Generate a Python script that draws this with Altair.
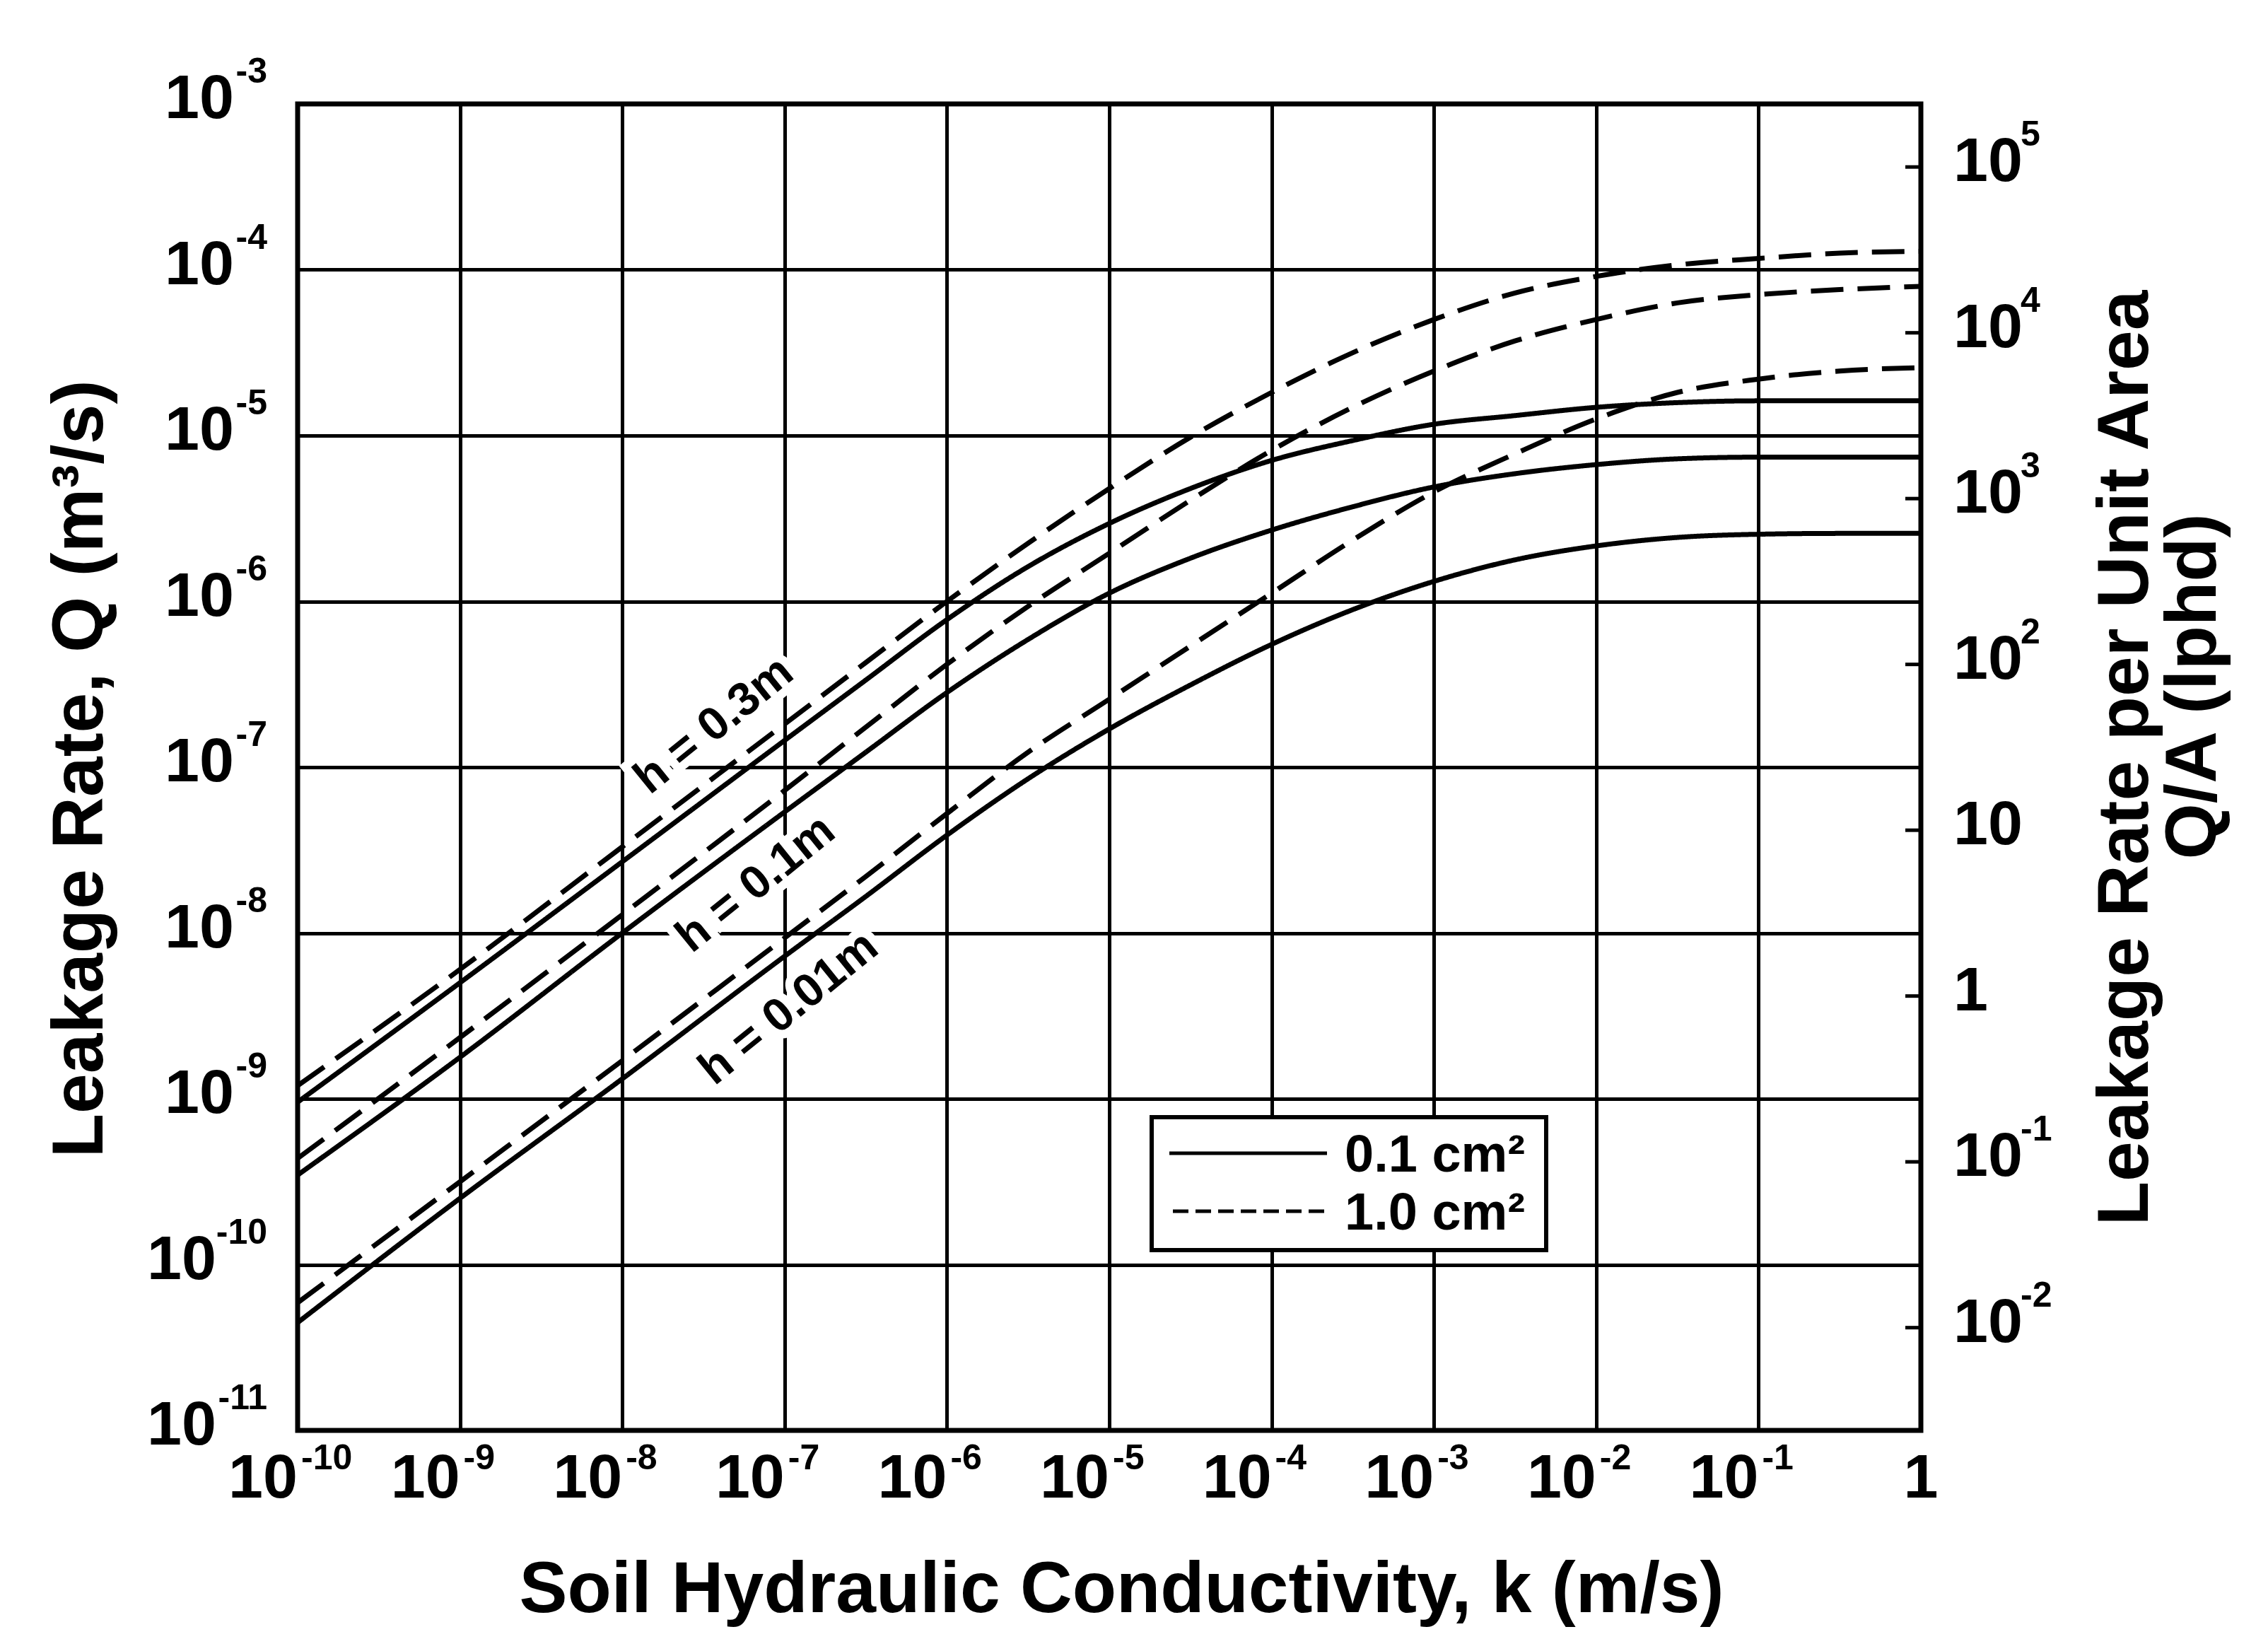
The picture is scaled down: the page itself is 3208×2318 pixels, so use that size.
import altair as alt
import pandas as pd

# ---------------- data ----------------
K = [1e-10, 1e-9, 1e-8, 1e-7, 3.16e-7, 1e-6, 3.16e-6, 1e-5, 3.16e-5,
     1e-4, 3.16e-4, 1e-3, 3.16e-3, 1e-2, 3.16e-2, 1e-1, 3.16e-1, 1.0]

# h = 0.3 m
Q_H030_A01 = [9.55e-10, 5.01e-9, 2.69e-8, 1.45e-7, 3.35e-7, 7.76e-7, 1.62e-6, 2.95e-6, 4.79e-6,
              7.08e-6, 9.33e-6, 1.17e-5, 1.32e-5, 1.48e-5, 1.58e-5, 1.62e-5, 1.62e-5, 1.62e-5]
Q_H030_A10 = [1.20e-9, 6.03e-9, 3.31e-8, 1.82e-7, 4.27e-7, 1.0e-6, 2.24e-6, 4.79e-6, 9.77e-6,
              1.82e-5, 3.16e-5, 5.01e-5, 7.24e-5, 9.12e-5, 1.07e-4, 1.17e-4, 1.26e-4, 1.29e-4]
# h = 0.1 m
Q_H010_A01 = [3.47e-10, 1.78e-9, 1.0e-8, 5.37e-8, 1.23e-7, 2.82e-7, 5.89e-7, 1.12e-6, 1.82e-6,
              2.69e-6, 3.72e-6, 4.90e-6, 5.89e-6, 6.68e-6, 7.24e-6, 7.41e-6, 7.41e-6, 7.41e-6]
Q_H010_A10 = [4.37e-10, 2.34e-9, 1.29e-8, 7.24e-8, 1.74e-7, 4.17e-7, 9.33e-7, 1.95e-6, 4.07e-6,
              8.13e-6, 1.48e-5, 2.45e-5, 3.72e-5, 5.01e-5, 6.31e-5, 7.08e-5, 7.59e-5, 7.94e-5]
# h = 0.01 m
Q_H001_A01 = [4.47e-11, 2.51e-10, 1.32e-9, 7.24e-9, 1.66e-8, 3.89e-8, 8.51e-8, 1.70e-7, 3.13e-7,
              5.50e-7, 8.91e-7, 1.32e-6, 1.78e-6, 2.16e-6, 2.43e-6, 2.54e-6, 2.57e-6, 2.57e-6]
Q_H001_A10 = [5.89e-11, 3.16e-10, 1.70e-9, 9.33e-9, 2.19e-8, 5.25e-8, 1.23e-7, 2.57e-7, 5.37e-7,
              1.12e-6, 2.34e-6, 4.57e-6, 7.76e-6, 1.26e-5, 1.82e-5, 2.19e-5, 2.45e-5, 2.57e-5]

AREA_LABELS = ["0.1 cm²", "1.0 cm²"]

X_TICKS = [1e-10, 1e-9, 1e-8, 1e-7, 1e-6, 1e-5, 1e-4, 1e-3, 1e-2, 1e-1, 1.0]
X_BASE = ["10"] * 10 + ["1"]
X_EXP = ["-10", "-9", "-8", "-7", "-6", "-5", "-4", "-3", "-2", "-1", ""]

Y_TICKS = [1e-11, 1e-10, 1e-9, 1e-8, 1e-7, 1e-6, 1e-5, 1e-4, 1e-3]
Y_EXP = ["-11", "-10", "-9", "-8", "-7", "-6", "-5", "-4", "-3"]

RIGHT_FACTOR = 2.4e8   # Q (m3/s) -> Q/A (lphd)
R_TICKS = [1e-2, 1e-1, 1.0, 10.0, 1e2, 1e3, 1e4, 1e5]
R_BASE = ["10", "10", "1", "10", "10", "10", "10", "10"]
R_EXP = ["-2", "-1", "", "", "2", "3", "4", "5"]

ANN_TEXT = ["h = 0.3m", "h = 0.1m", "h = 0.01m"]
ANN_K = [3.67e-8, 6.64e-8, 1.06e-7]
ANN_Q = [1.79e-7, 1.98e-8, 3.52e-9]

# ---------------- build tables ----------------
series = [("h=0.3", AREA_LABELS[0], Q_H030_A01), ("h=0.3", AREA_LABELS[1], Q_H030_A10),
          ("h=0.1", AREA_LABELS[0], Q_H010_A01), ("h=0.1", AREA_LABELS[1], Q_H010_A10),
          ("h=0.01", AREA_LABELS[0], Q_H001_A01), ("h=0.01", AREA_LABELS[1], Q_H001_A10)]
rows = []
for h, a, qs in series:
    for k, q in zip(K, qs):
        rows.append({"k": k, "Q": q, "area": a, "curve": h + " " + a})
df = pd.DataFrame(rows)

x_df = pd.DataFrame({"k": X_TICKS, "base": X_BASE, "exp": X_EXP})
y_df = pd.DataFrame({"Q": Y_TICKS, "exp": Y_EXP})
r_df = pd.DataFrame({"R": R_TICKS, "base": R_BASE, "exp": R_EXP})
ann_df = pd.DataFrame({"k": ANN_K, "Q": ANN_Q, "label": ANN_TEXT})
leg_df = pd.DataFrame({"label": AREA_LABELS})
one = pd.DataFrame({"i": [0]})

# ---------------- layout / style ----------------
W, H = 2296, 1876
FONT = "Liberation Sans"
BIG = 88
SUP = 50
TITLE = 102

xscale = alt.Scale(type="log", domain=[1e-10, 1.0], nice=False)
yscale = alt.Scale(type="log", domain=[1e-11, 1e-3], nice=False)

txt = dict(font=FONT, fontWeight="bold", color="black")

x_axis = alt.Axis(values=X_TICKS, grid=True, ticks=False, labels=False, domain=False,
                  title="Soil Hydraulic Conductivity, k (m/s)", titleFont=FONT,
                  titleFontSize=TITLE, titleFontWeight="bold", titleColor="black",
                  titleX=1165, titleY=256, titleAlign="center", titleBaseline="alphabetic")
y_axis = alt.Axis(values=Y_TICKS, grid=True, ticks=False, labels=False, domain=False,
                  title="Leakage Rate, Q (m³/s)", titleFont=FONT, titleFontSize=TITLE,
                  titleFontWeight="bold", titleColor="black", titleX=-277, titleY=940,
                  titleAngle=270, titleAlign="center", titleBaseline="alphabetic")

X = alt.X("k:Q", scale=xscale)
Y = alt.Y("Q:Q", scale=yscale)

# white halo behind the h labels (interrupts grid lines like the original)
ann_base = alt.Chart(ann_df).encode(x=X, y=Y, text="label:N")
ann_halo = ann_base.mark_text(angle=321, fontSize=66, font=FONT, fontWeight="bold",
                              fill="white", stroke="white", strokeWidth=24)

curves = alt.Chart(df).mark_line(color="black", strokeWidth=7, interpolate="monotone").encode(
    x=alt.X("k:Q", scale=xscale, axis=x_axis),
    y=alt.Y("Q:Q", scale=yscale, axis=y_axis),
    strokeDash=alt.StrokeDash("area:N", scale=alt.Scale(domain=AREA_LABELS, range=[[1, 0], [46, 20]]),
                              legend=None),
    detail="curve:N",
)

ann_text = ann_base.mark_text(angle=321, fontSize=66, **txt)

# x tick labels (10 + raised exponent)
xl = alt.Chart(x_df)
x_base = xl.transform_filter("datum.exp != ''").mark_text(align="right", baseline="middle", fontSize=BIG, **txt).encode(
    x=X, y=alt.value(H + 69), text="base:N")
x_sup = xl.transform_filter("datum.exp != ''").mark_text(align="left", baseline="middle", dx=5, fontSize=SUP, **txt).encode(
    x=X, y=alt.value(H + 40), text="exp:N")
x_one = xl.transform_filter("datum.exp == ''").mark_text(align="center", baseline="middle", fontSize=BIG, **txt).encode(
    x=X, y=alt.value(H + 69), text="base:N")

# left tick labels
yl = alt.Chart(y_df)
y_sup = yl.mark_text(align="right", baseline="middle", dy=-45, fontSize=SUP, **txt).encode(
    x=alt.value(-43), y=Y, text="exp:N")
y_base2 = yl.transform_filter("length(datum.exp) == 2").mark_text(
    align="right", baseline="middle", dy=-6, fontSize=BIG, text="10", **txt).encode(x=alt.value(-43 - 47), y=Y)
y_base3 = yl.transform_filter("length(datum.exp) == 3").mark_text(
    align="right", baseline="middle", dy=-6, fontSize=BIG, text="10", **txt).encode(x=alt.value(-43 - 72), y=Y)

# right axis (Q/A in lphd): inward ticks + labels, positioned through the Q scale
rl = alt.Chart(r_df).transform_calculate(Qr=f"datum.R / {RIGHT_FACTOR}")
YR = alt.Y("Qr:Q", scale=yscale)
r_ticks = rl.mark_rule(color="black", strokeWidth=5).encode(x=alt.value(W - 22), x2=alt.value(W), y=YR)
r_base = rl.mark_text(align="left", baseline="middle", dy=-6, fontSize=BIG, **txt).encode(
    x=alt.value(W + 46), y=YR, text="base:N")
r_sup = rl.transform_filter("datum.exp != ''").mark_text(align="left", baseline="middle", dy=-45, fontSize=SUP, **txt).encode(
    x=alt.value(W + 141), y=YR, text="exp:N")

# right axis title (two lines)
rt1 = alt.Chart(one).mark_text(angle=270, align="center", baseline="alphabetic", fontSize=TITLE,
                               text="Leakage Rate per Unit Area", **txt).encode(x=alt.value(2617), y=alt.value(925))
rt2 = alt.Chart(one).mark_text(angle=270, align="center", baseline="alphabetic", fontSize=TITLE,
                               text="Q/A (lphd)", **txt).encode(x=alt.value(2713), y=alt.value(824))

# legend
leg_box = alt.Chart(one).mark_rect(fill="white", stroke="black", strokeWidth=6).encode(
    x=alt.value(1208), x2=alt.value(1766), y=alt.value(1433), y2=alt.value(1621))
leg_solid = alt.Chart(one).mark_rule(color="black", strokeWidth=5).encode(
    x=alt.value(1233), x2=alt.value(1456), y=alt.value(1484))
leg_dash = alt.Chart(one).mark_rule(color="black", strokeWidth=5, strokeDash=[22, 10]).encode(
    x=alt.value(1238), x2=alt.value(1456), y=alt.value(1566))
leg_t1 = alt.Chart(leg_df).transform_filter(alt.datum.label == AREA_LABELS[0]).mark_text(
    align="left", baseline="middle", fontSize=74, **txt).encode(x=alt.value(1481), y=alt.value(1488), text="label:N")
leg_t2 = alt.Chart(leg_df).transform_filter(alt.datum.label == AREA_LABELS[1]).mark_text(
    align="left", baseline="middle", fontSize=74, **txt).encode(x=alt.value(1481), y=alt.value(1570), text="label:N")

chart = alt.layer(
    ann_halo, curves, ann_text, x_base, x_sup, x_one, y_sup, y_base2, y_base3,
    r_ticks, r_base, r_sup, rt1, rt2, leg_box, leg_solid, leg_dash, leg_t1, leg_t2,
).properties(
    width=W, height=H,
    autosize=alt.AutoSizeParams(type="none"),
    padding={"left": 413, "top": 139, "right": 483, "bottom": 287},
    background="white",
).configure_view(stroke="black", strokeWidth=7).configure_axis(
    gridColor="black", gridWidth=5, gridOpacity=1)

chart.save("out.html", embed_options={"renderer": "svg", "actions": False})
